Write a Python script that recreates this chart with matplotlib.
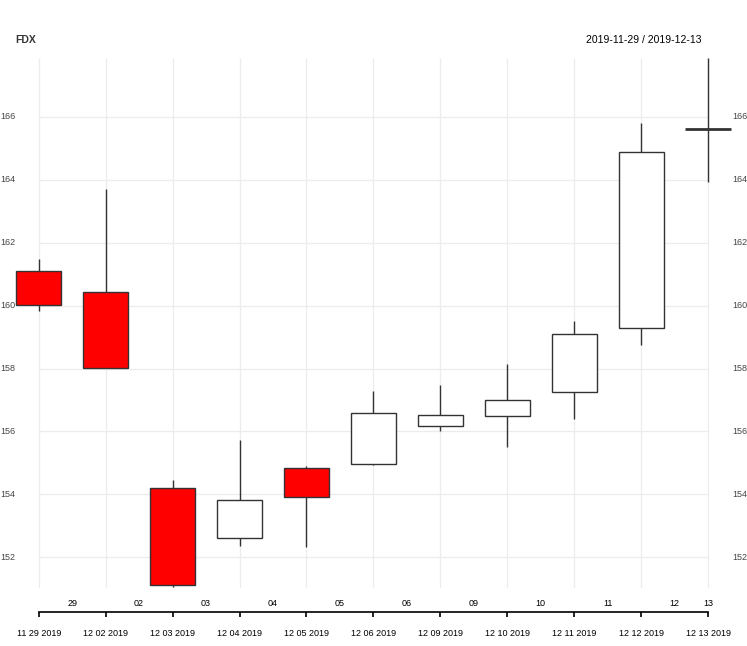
import matplotlib.pyplot as plt
from matplotlib import transforms

plt.rcParams['font.family'] = ['Liberation Sans', 'DejaVu Sans']

dates = ["11 29 2019", "12 02 2019", "12 03 2019", "12 04 2019", "12 05 2019", "12 06 2019",
         "12 09 2019", "12 10 2019", "12 11 2019", "12 12 2019", "12 13 2019"]
days = ["29", "02", "03", "04", "05", "06", "09", "10", "11", "12", "13"]
opens = [161.11, 160.44, 154.22, 152.63, 154.83, 154.98, 156.19, 156.48, 157.24, 159.30, 165.62]
highs = [161.47, 163.69, 154.45, 155.72, 154.90, 157.28, 157.47, 158.14, 159.50, 165.81, 167.86]
lows = [159.83, 158.01, 151.07, 152.36, 152.33, 154.92, 156.02, 155.51, 156.40, 158.76, 163.93]
closes = [160.02, 158.01, 151.11, 153.84, 153.92, 156.60, 156.51, 156.99, 159.09, 164.88, 165.62]
yticks = [152, 154, 156, 158, 160, 162, 164, 166]

W, H = 747, 646
fig = plt.figure(figsize=(W / 100, H / 100), dpi=100)
left, right, top, bottom = 15, 732, 58, 588
ax = fig.add_axes([left / W, 1 - bottom / H, (right - left) / W, (bottom - top) / H])
for s in ax.spines.values():
    s.set_visible(False)
ax.set_xticks([])
ax.set_yticks([])

n = len(dates)
x = list(range(n))
ax.set_xlim(-0.354, 10.356)
ax.set_ylim(min(lows) - 0.04, max(highs))

grid = "#ececec"
dark = "#333333"
ax.vlines(x, 0, 1, transform=ax.get_xaxis_transform(), color=grid, lw=0.9, zorder=0)
ax.hlines(yticks, 0, n - 1, color=grid, lw=0.9, zorder=0)

# candles
for i in x:
    ax.vlines(i, lows[i], highs[i], color=dark, lw=1.0, zorder=2)
    if opens[i] == closes[i]:
        ax.hlines(opens[i], i - 0.34, i + 0.34, color=dark, lw=2.0, zorder=3)
        continue
    fc = "#ff0000" if closes[i] < opens[i] else "white"
    ax.bar(i, closes[i] - opens[i], bottom=opens[i], width=0.67, color=fc,
           edgecolor=dark, linewidth=1.0, zorder=3)

# y labels on both sides
tl = transforms.blended_transform_factory(fig.transFigure, ax.transData)
for v in yticks:
    fig.text(0.5 / W, v, str(v), transform=tl, ha="left", va="center", fontsize=6.5, color="#444444")
    fig.text(732 / W, v, str(v), transform=tl, ha="left", va="center", fontsize=6.5, color="#444444")

# bottom date axis
bx = fig.add_axes([left / W, 0, (right - left) / W, 1])
bx.set_xlim(ax.get_xlim())
bx.set_ylim(H, 0)
bx.axis("off")
bx.plot([0, n - 1], [611.5, 611.5], color="black", lw=1.2)
bx.vlines(x, 611.5, 617, color="black", lw=1.2)
for i in x:
    xp = i + 0.5 if i < n - 1 else i
    bx.text(xp, 604, days[i], ha="center", va="center", fontsize=6.5, color="black")
    bx.text(i, 634, dates[i], ha="center", va="center", fontsize=6.5, color="black")

fig.text(15 / W, 1 - 40 / H, "FDX", ha="left", va="center", fontsize=7.5, fontweight="bold", color=dark)
fig.text(701 / W, 1 - 40 / H, "2019-11-29 / 2019-12-13", ha="right", va="center", fontsize=7.5, color="black")

fig.savefig("out.png", dpi=100)
